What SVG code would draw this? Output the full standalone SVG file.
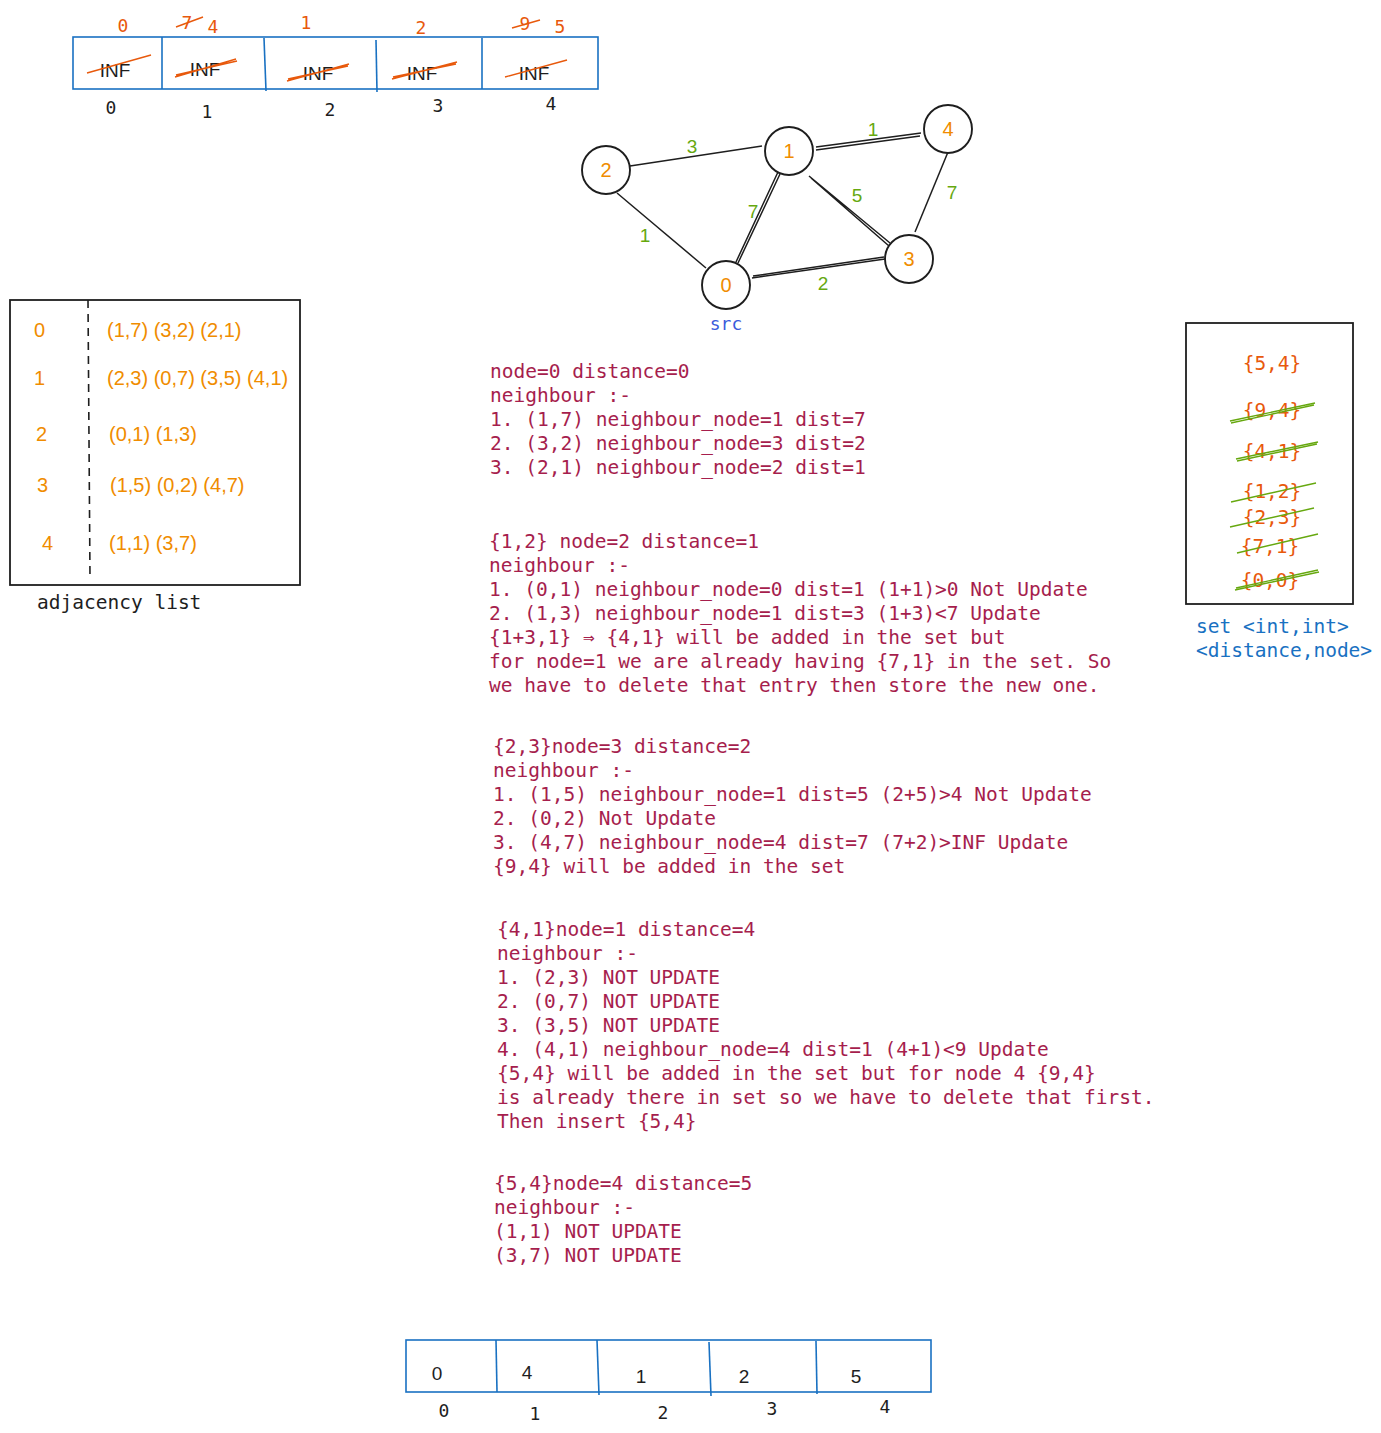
<svg xmlns="http://www.w3.org/2000/svg" width="1381" height="1433" viewBox="0 0 1381 1433">
<style>
.mono{font-family:"DejaVu Sans Mono","Liberation Mono",monospace;}
.sans{font-family:"Liberation Sans",Arial,sans-serif;}
.code{font-family:"DejaVu Sans Mono","Liberation Mono",monospace;font-size:19.5px;fill:#a61e4d;}
.arr{fill:none;stroke:#1971c2;stroke-width:1.6;}
.blk{fill:none;stroke:#1e1e1e;stroke-width:1.8;}
.strikeR{stroke:#e8590c;stroke-width:1.4;fill:none;}
.strikeG{stroke:#66a80f;stroke-width:1.4;fill:none;}
.edge{stroke:#1e1e1e;stroke-width:1.5;fill:none;}
.node{fill:#ffffff;stroke:#1e1e1e;stroke-width:1.9;}
.nlab{font-family:"Liberation Sans",Arial,sans-serif;font-size:20px;fill:#f08c00;text-anchor:middle;}
.wlab{font-family:"Liberation Sans",Arial,sans-serif;font-size:19px;fill:#66a80f;text-anchor:middle;}
.val{font-family:"Liberation Sans",Arial,sans-serif;font-size:19px;fill:#1e1e1e;text-anchor:middle;}
.idx{font-family:"DejaVu Sans Mono","Liberation Mono",monospace;font-size:18px;fill:#1e1e1e;text-anchor:middle;}
.top{font-family:"DejaVu Sans Mono","Liberation Mono",monospace;font-size:18px;fill:#e8590c;text-anchor:middle;}
.adj{font-family:"Liberation Sans",Arial,sans-serif;font-size:20px;fill:#f08c00;}
.set{font-family:"DejaVu Sans Mono","Liberation Mono",monospace;font-size:19.5px;fill:#e8590c;text-anchor:middle;}
</style>

<!-- Top distance array -->
<g id="dist-array-initial">
  <rect class="arr" x="73" y="37" width="525" height="52"/>
  <line class="arr" x1="162" y1="37" x2="162" y2="89"/>
  <line class="arr" x1="264" y1="38" x2="266" y2="91"/>
  <line class="arr" x1="376" y1="40" x2="377" y2="92"/>
  <line class="arr" x1="482" y1="38" x2="482" y2="89"/>
  <text class="val" x="115" y="77">INF</text>
  <text class="val" x="205" y="76">INF</text>
  <text class="val" x="318" y="80">INF</text>
  <text class="val" x="422" y="80">INF</text>
  <text class="val" x="534" y="80">INF</text>
  <line class="strikeR" x1="87" y1="73" x2="151" y2="55"/>
  <path class="strikeR" d="M175 77 L236 59 M176 75 L237 61"/>
  <path class="strikeR" d="M287 81 L349 64 M288 79 L348 66"/>
  <path class="strikeR" d="M392 79 L457 62 M393 77 L456 64"/>
  <line class="strikeR" x1="505" y1="77" x2="567" y2="60"/>
  <text class="top" x="123" y="32">0</text>
  <text class="top" x="187" y="29">7</text>
  <line class="strikeR" x1="176" y1="27" x2="203" y2="17"/>
  <text class="top" x="213" y="33">4</text>
  <text class="top" x="306" y="29">1</text>
  <text class="top" x="421" y="34">2</text>
  <text class="top" x="525" y="30">9</text>
  <line class="strikeR" x1="512" y1="28" x2="540" y2="20"/>
  <text class="top" x="560" y="33">5</text>
  <text class="idx" x="111" y="114">0</text>
  <text class="idx" x="207" y="118">1</text>
  <text class="idx" x="330" y="116">2</text>
  <text class="idx" x="438" y="112">3</text>
  <text class="idx" x="551" y="110">4</text>
</g>

<!-- Graph connectors -->
<g id="edges">
  <path class="edge" d="M630 166 L762 146"/>
  <path class="edge" d="M816 147 L921 133 M816 150 L920 136"/>
  <path class="edge" d="M617 193 L706 268"/>
  <path class="edge" d="M778 172 L736 262 M780 174 L738 263"/>
  <path class="edge" d="M809 176 L890 243 M811 178 L889 246"/>
  <path class="edge" d="M948 152 L915 232"/>
  <path class="edge" d="M752 278 L885 259 M753 276 L884 257"/>
  <text class="wlab" x="692" y="153">3</text>
  <text class="wlab" x="873" y="136">1</text>
  <text class="wlab" x="645" y="242">1</text>
  <text class="wlab" x="753" y="218">7</text>
  <text class="wlab" x="857" y="202">5</text>
  <text class="wlab" x="952" y="199">7</text>
  <text class="wlab" x="823" y="290">2</text>
</g>

<g id="node-2">
  <circle class="node" cx="606" cy="170" r="24"/>
  <text class="nlab" x="606" y="177">2</text>
</g>
<g id="node-1">
  <circle class="node" cx="789" cy="151" r="24"/>
  <text class="nlab" x="789" y="158">1</text>
</g>
<g id="node-4">
  <circle class="node" cx="948" cy="129" r="24"/>
  <text class="nlab" x="948" y="136">4</text>
</g>
<g id="node-3">
  <circle class="node" cx="909" cy="259" r="24"/>
  <text class="nlab" x="909" y="266">3</text>
</g>
<g id="node-0">
  <circle class="node" cx="726" cy="285" r="24"/>
  <text class="nlab" x="726" y="292">0</text>
  <text class="mono" x="726" y="330" font-size="18" fill="#3b5bdb" text-anchor="middle">src</text>
</g>

<!-- Adjacency list -->
<g id="adjacency-list">
  <rect class="blk" x="10" y="300" width="290" height="285"/>
  <line x1="88" y1="300" x2="90" y2="578" stroke="#1e1e1e" stroke-width="1.6" stroke-dasharray="8 6"/>
  <text class="adj" x="34" y="337">0</text>
  <text class="adj" x="34" y="385">1</text>
  <text class="adj" x="36" y="441">2</text>
  <text class="adj" x="37" y="492">3</text>
  <text class="adj" x="42" y="550">4</text>
  <text class="adj" x="107" y="337">(1,7) (3,2) (2,1)</text>
  <text class="adj" x="107" y="385">(2,3) (0,7) (3,5) (4,1)</text>
  <text class="adj" x="109" y="441">(0,1) (1,3)</text>
  <text class="adj" x="110" y="492">(1,5) (0,2) (4,7)</text>
  <text class="adj" x="109" y="550">(1,1) (3,7)</text>
  <text class="mono" x="37" y="609" font-size="19.5" fill="#1e1e1e">adjacency list</text>
</g>

<!-- Set -->
<g id="set-box">
  <rect class="blk" x="1186" y="323" width="167" height="281"/>
  <text class="set" x="1272" y="370">{5,4}</text>
  <text class="set" x="1272" y="417">{9,4}</text>
  <text class="set" x="1272" y="458">{4,1}</text>
  <text class="set" x="1272" y="498">{1,2}</text>
  <text class="set" x="1272" y="524">{2,3}</text>
  <text class="set" x="1270" y="553">{7,1}</text>
  <text class="set" x="1270" y="587">{0,0}</text>
  <path class="strikeG" d="M1230 421 L1315 403 M1231 423 L1314 405"/>
  <path class="strikeG" d="M1236 459 L1318 442 M1237 461 L1317 444"/>
  <line class="strikeG" x1="1231" y1="502" x2="1316" y2="483"/>
  <line class="strikeG" x1="1230" y1="527" x2="1314" y2="508"/>
  <line class="strikeG" x1="1237" y1="553" x2="1318" y2="534"/>
  <path class="strikeG" d="M1235 590 L1319 572 M1236 588 L1318 570"/>
  <text class="mono" x="1196" y="633" font-size="19.5" fill="#1971c2">set &lt;int,int&gt;</text>
  <text class="mono" x="1196" y="657" font-size="19.5" fill="#1971c2">&lt;distance,node&gt;</text>
</g>

<!-- Explanation texts -->
<g id="step-1">
  <text class="code" x="490" y="378">node=0 distance=0</text>
  <text class="code" x="490" y="402">neighbour :-</text>
  <text class="code" x="490" y="426">1. (1,7) neighbour_node=1 dist=7</text>
  <text class="code" x="490" y="450">2. (3,2) neighbour_node=3 dist=2</text>
  <text class="code" x="490" y="474">3. (2,1) neighbour_node=2 dist=1</text>
</g>
<g id="step-2">
  <text class="code" x="489" y="548">{1,2} node=2 distance=1</text>
  <text class="code" x="489" y="572">neighbour :-</text>
  <text class="code" x="489" y="596">1. (0,1) neighbour_node=0 dist=1 (1+1)&gt;0 Not Update</text>
  <text class="code" x="489" y="620">2. (1,3) neighbour_node=1 dist=3 (1+3)&lt;7 Update</text>
  <text class="code" x="489" y="644">{1+3,1} ⇒ {4,1} will be added in the set but</text>
  <text class="code" x="489" y="668">for node=1 we are already having {7,1} in the set. So</text>
  <text class="code" x="489" y="692">we have to delete that entry then store the new one.</text>
</g>
<g id="step-3">
  <text class="code" x="493" y="753">{2,3}node=3 distance=2</text>
  <text class="code" x="493" y="777">neighbour :-</text>
  <text class="code" x="493" y="801">1. (1,5) neighbour_node=1 dist=5 (2+5)&gt;4 Not Update</text>
  <text class="code" x="493" y="825">2. (0,2) Not Update</text>
  <text class="code" x="493" y="849">3. (4,7) neighbour_node=4 dist=7 (7+2)&gt;INF Update</text>
  <text class="code" x="493" y="873">{9,4} will be added in the set</text>
</g>
<g id="step-4">
  <text class="code" x="497" y="936">{4,1}node=1 distance=4</text>
  <text class="code" x="497" y="960">neighbour :-</text>
  <text class="code" x="497" y="984">1. (2,3) NOT UPDATE</text>
  <text class="code" x="497" y="1008">2. (0,7) NOT UPDATE</text>
  <text class="code" x="497" y="1032">3. (3,5) NOT UPDATE</text>
  <text class="code" x="497" y="1056">4. (4,1) neighbour_node=4 dist=1 (4+1)&lt;9 Update</text>
  <text class="code" x="497" y="1080">{5,4} will be added in the set but for node 4 {9,4}</text>
  <text class="code" x="497" y="1104">is already there in set so we have to delete that first.</text>
  <text class="code" x="497" y="1128">Then insert {5,4}</text>
</g>
<g id="step-5">
  <text class="code" x="494" y="1190">{5,4}node=4 distance=5</text>
  <text class="code" x="494" y="1214">neighbour :-</text>
  <text class="code" x="494" y="1238">(1,1) NOT UPDATE</text>
  <text class="code" x="494" y="1262">(3,7) NOT UPDATE</text>
</g>

<!-- Final distance array -->
<g id="dist-array-final">
  <rect class="arr" x="406" y="1340" width="525" height="52"/>
  <line class="arr" x1="496" y1="1340" x2="497" y2="1392"/>
  <line class="arr" x1="597" y1="1340" x2="599" y2="1395"/>
  <line class="arr" x1="709" y1="1342" x2="711" y2="1396"/>
  <line class="arr" x1="816" y1="1341" x2="817" y2="1394"/>
  <text class="val" x="437" y="1380">0</text>
  <text class="val" x="527" y="1379">4</text>
  <text class="val" x="641" y="1383">1</text>
  <text class="val" x="744" y="1383">2</text>
  <text class="val" x="856" y="1383">5</text>
  <text class="idx" x="444" y="1417">0</text>
  <text class="idx" x="535" y="1420">1</text>
  <text class="idx" x="663" y="1419">2</text>
  <text class="idx" x="772" y="1415">3</text>
  <text class="idx" x="885" y="1413">4</text>
</g>
</svg>
